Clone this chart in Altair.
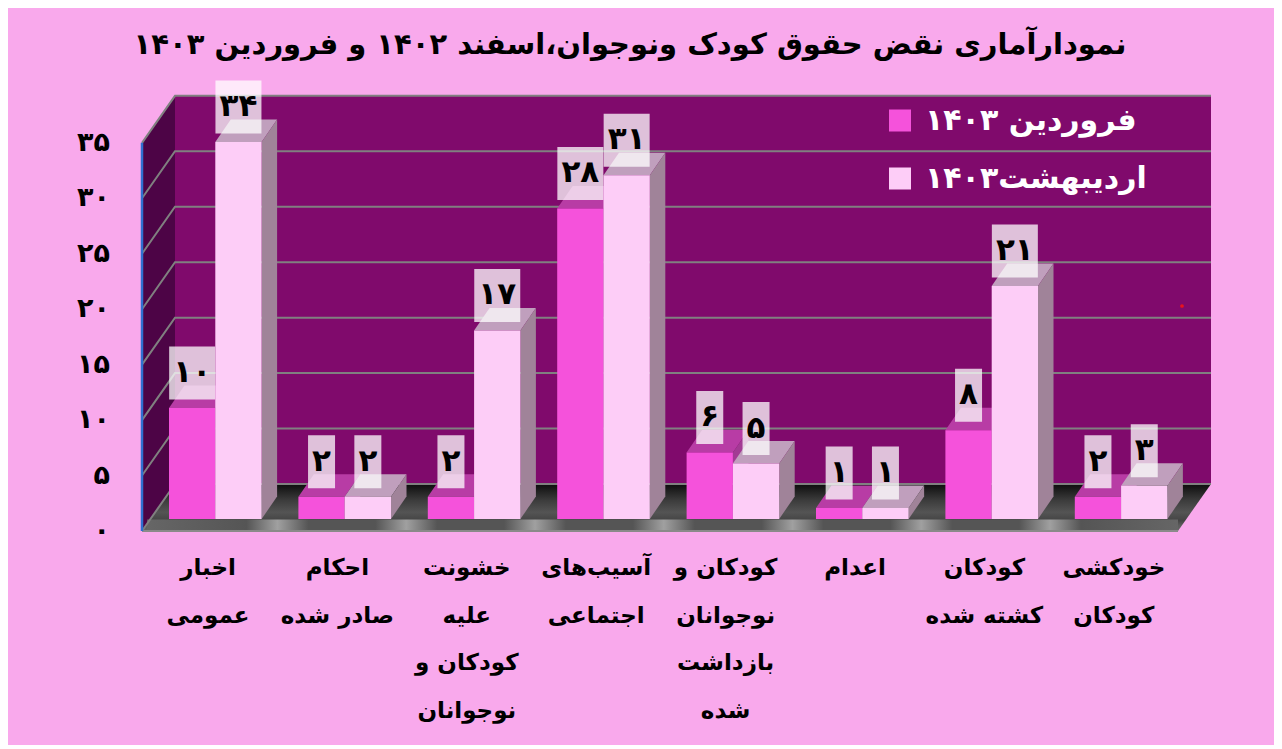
import altair as alt
import pandas as pd

categories = ["اخبار\nعمومی", "احکام\nصادر شده", "خشونت\nعلیه\nکودکان و\nنوجوانان", "آسیب‌های\nاجتماعی",
              "کودکان و\nنوجوانان\nبازداشت\nشده", "اعدام", "کودکان\nکشته شده", "خودکشی\nکودکان"]
farvardin = [10, 2, 2, 28, 6, 1, 8, 2]
ordibehesht = [34, 2, 17, 31, 5, 1, 21, 3]
series_names = ["فروردین ۱۴۰۳", "اردیبهشت۱۴۰۳"]
title_text = "نمودارآماری نقض حقوق کودک ونوجوان،اسفند ۱۴۰۲ و فروردین ۱۴۰۳"
y_ticks = [0, 5, 10, 15, 20, 25, 30, 35]

FONT = "DejaVu Sans"
FA = "۰۱۲۳۴۵۶۷۸۹"
def fa(n):
    return "".join(FA[int(c)] for c in str(n))

# layout, in data units (1 x unit = one category step, 1 y unit = one count)
PX_X, PX_Y = 129.4, 11.09
X0, Y0 = 169, 531
W, H = 1266, 737
x_dom = [(8 - X0) / PX_X, (8 + W - X0) / PX_X]
y_dom = [(Y0 - 8 - H) / PX_Y, (Y0 - 8) / PX_Y]
x_scale = alt.Scale(domain=x_dom, nice=False, zero=False)
y_scale = alt.Scale(domain=y_dom, nice=False, zero=False)

fl, fr = -27 / PX_X, 1009 / PX_X          # floor front edge
wall_dx, wall_dy = 33 / PX_X, 47 / PX_Y   # depth of the box
bar_w = 46.3 / PX_X
bar_dx, bar_dy = 15.5 / PX_X, 22.5 / PX_Y
base = 12 / PX_Y
y_top = 35

X = lambda f="x": alt.X(f + ":Q", scale=x_scale, axis=None, stack=False)
Y = lambda f="y": alt.Y(f + ":Q", scale=y_scale, axis=None, stack=False)

# walls and floor
back_wall = alt.Chart(pd.DataFrame([{"x": fl + wall_dx, "x2": fr + wall_dx, "y": wall_dy, "y2": y_top + wall_dy}])).mark_rect(color="#800a6c").encode(
    x=X(), x2="x2:Q", y=Y(), y2="y2:Q")
left_wall = alt.Chart(pd.DataFrame([{"x": fl, "y": 0, "y2": y_top}, {"x": fl + wall_dx, "y": wall_dy, "y2": y_top + wall_dy}])).mark_area(
    color="#4d0446", orient="vertical").encode(x=X(), y=Y(), y2="y2:Q")
floor_df = pd.DataFrame([{"y": 0, "x": fl, "x2": fr}, {"y": wall_dy, "x": fl + wall_dx, "x2": fr + wall_dx}])
floor = alt.Chart(floor_df).mark_area(orient="horizontal", color=alt.LinearGradient(
    gradient="linear", x1=0, x2=0, y1=0, y2=1,
    stops=[alt.GradientStop(color="#0d0d0d", offset=0), alt.GradientStop(color="#3c3c3c", offset=0.35),
           alt.GradientStop(color="#545454", offset=0.6), alt.GradientStop(color="#444444", offset=0.78),
           alt.GradientStop(color="#5c5c5c", offset=0.88), alt.GradientStop(color="#666666", offset=1)])).encode(
    y=Y(), x=X(), x2="x2:Q")

# soft highlights running along the front of the floor, one per category
glow_stops = [alt.GradientStop(color="#666666", offset=0)]
for k in range(7):
    p = (131 + k * PX_X) / 1036
    glow_stops += [alt.GradientStop(color="#555555", offset=p - 0.03),
                   alt.GradientStop(color="#a0a0a0", offset=p),
                   alt.GradientStop(color="#555555", offset=p + 0.03)]
glow_stops.append(alt.GradientStop(color="#666666", offset=1))
glow = alt.Chart(pd.DataFrame([{"x": fl + 0.04, "x2": fr, "y": 0.06, "y2": base * 0.95}])).mark_rect(
    color=alt.LinearGradient(gradient="linear", x1=0, x2=1, y1=0, y2=0, stops=glow_stops)).encode(
    x=X(), x2="x2:Q", y=Y(), y2="y2:Q")

grid_rows = []
for t in y_ticks:
    grid_rows += [{"k": t, "n": 0, "x": fl, "y": t}, {"k": t, "n": 1, "x": fl + wall_dx, "y": t + wall_dy},
                  {"k": t, "n": 2, "x": fr + wall_dx, "y": t + wall_dy}]
grid = alt.Chart(pd.DataFrame(grid_rows)).mark_line(color="#808080", strokeWidth=2).encode(
    x=X(), y=Y(), detail="k:N", order="n:Q")
front_edge = alt.Chart(pd.DataFrame([{"x": fl, "y": 0}, {"x": fr, "y": 0}])).mark_line(color="#8a8a8a", strokeWidth=2).encode(x=X(), y=Y())
axis_line = alt.Chart(pd.DataFrame([{"x": fl, "y": 0}, {"x": fl, "y": y_top}])).mark_line(color="#2f6fd0", strokeWidth=2.5).encode(x=X(), y=Y())

# value-axis tick labels
tick_df = pd.DataFrame({"x": [-59 / PX_X] * len(y_ticks), "y": y_ticks, "t": [fa(t) for t in y_ticks]})
tick_text = alt.Chart(tick_df).mark_text(font=FONT, fontWeight="bold", fontSize=27, color="#000000", align="right", baseline="middle").encode(
    x=X(), y=Y(), text="t:N")

# bars
def faces(vals, offset):
    top, side, front = [], [], []
    for i, v in enumerate(vals):
        xl, xr, yt = i + offset, i + offset + bar_w, base + v
        top += [{"i": i, "y": yt, "x": xl, "x2": xr}, {"i": i, "y": yt + bar_dy, "x": xl + bar_dx, "x2": xr + bar_dx}]
        side += [{"i": i, "x": xr, "y": base, "y2": yt}, {"i": i, "x": xr + bar_dx, "y": base + bar_dy, "y2": yt + bar_dy}]
        front.append({"i": i, "x": xl, "x2": xr, "y": base, "y2": yt})
    return pd.DataFrame(top), pd.DataFrame(side), pd.DataFrame(front)

t1, s1, f1 = faces(farvardin, 0)
t2, s2, f2 = faces(ordibehesht, bar_w)
def top_layer(df, c):
    return alt.Chart(df).mark_area(orient="horizontal", color=c).encode(y=Y(), x=X(), x2="x2:Q", detail="i:N")
def side_layer(df, c):
    return alt.Chart(df).mark_area(orient="vertical", color=c).encode(x=X(), y=Y(), y2="y2:Q", detail="i:N")

f1 = f1.assign(s=series_names[0]); f2 = f2.assign(s=series_names[1])
fronts = alt.Chart(pd.concat([f1, f2])).mark_rect().encode(
    x=X(), x2="x2:Q", y=Y(), y2="y2:Q",
    color=alt.Color("s:N", scale=alt.Scale(domain=series_names, range=["#f552db", "#fdcdf7"]),
                    legend=alt.Legend(title=None, orient="none", legendX=877, legendY=97.5, symbolType="square", symbolSize=484,
                                      symbolStrokeWidth=0, symbolOpacity=1, labelFont=FONT, labelFontWeight="bold", labelFontSize=30,
                                      labelColor="#ffffff", labelOffset=10, rowPadding=28, labelLimit=400)))

# value labels
rows = []
for off, vals in [(0, farvardin), (bar_w, ordibehesht)]:
    for i, v in enumerate(vals):
        half = (46 if v >= 10 else 27) / 2 / PX_X
        c = i + off + bar_w / 2
        yc = base + v + 35 / PX_Y
        rows.append({"x": c - half, "x2": c + half, "c": c, "y": yc - 26.5 / PX_Y, "y2": yc + 26.5 / PX_Y, "yc": yc, "t": fa(v)})
lab = pd.DataFrame(rows)
boxes = alt.Chart(lab).mark_rect(color="#ffffff", opacity=0.75).encode(x=X(), x2="x2:Q", y=Y(), y2="y2:Q")
texts = alt.Chart(lab).mark_text(font=FONT, fontWeight="bold", fontSize=31, color="#000000").encode(x=X("c"), y=Y("yc"), text="t:N")

# category labels
cat_df = pd.DataFrame({"x": [i + 39 / PX_X for i in range(8)], "y": [-26 / PX_Y] * 8, "t": categories})
cats = alt.Chart(cat_df).mark_text(font=FONT, fontWeight="bold", fontSize=23, color="#000000", baseline="top",
                                   lineBreak="\n", lineHeight=47.5).encode(x=X(), y=Y(), text="t:N")

stray = alt.Chart(pd.DataFrame({"x": [1013 / PX_X], "y": [225 / PX_Y]})).mark_point(filled=True, color="#e8141c", size=14, opacity=1).encode(x=X(), y=Y())

chart = alt.layer(back_wall, left_wall, floor, glow, grid, front_edge, axis_line, tick_text,
                  top_layer(t1, "#b83ca5"), side_layer(s1, "#a33a94"),
                  top_layer(t2, "#c09fbd"), side_layer(s2, "#a08399"),
                  fronts, boxes, texts, cats, stray).properties(
    width=W, height=H, padding=0, background="#f9a9ec",
    autosize=alt.AutoSizeParams(type="none"),
    title=alt.TitleParams(title_text, font=FONT, fontWeight="bold", fontSize=29, color="#000000",
                          anchor="middle", dx=-11, offset=-52),
).configure_view(stroke=None)

chart.save("out.html", embed_options={"renderer": "svg", "actions": False})
